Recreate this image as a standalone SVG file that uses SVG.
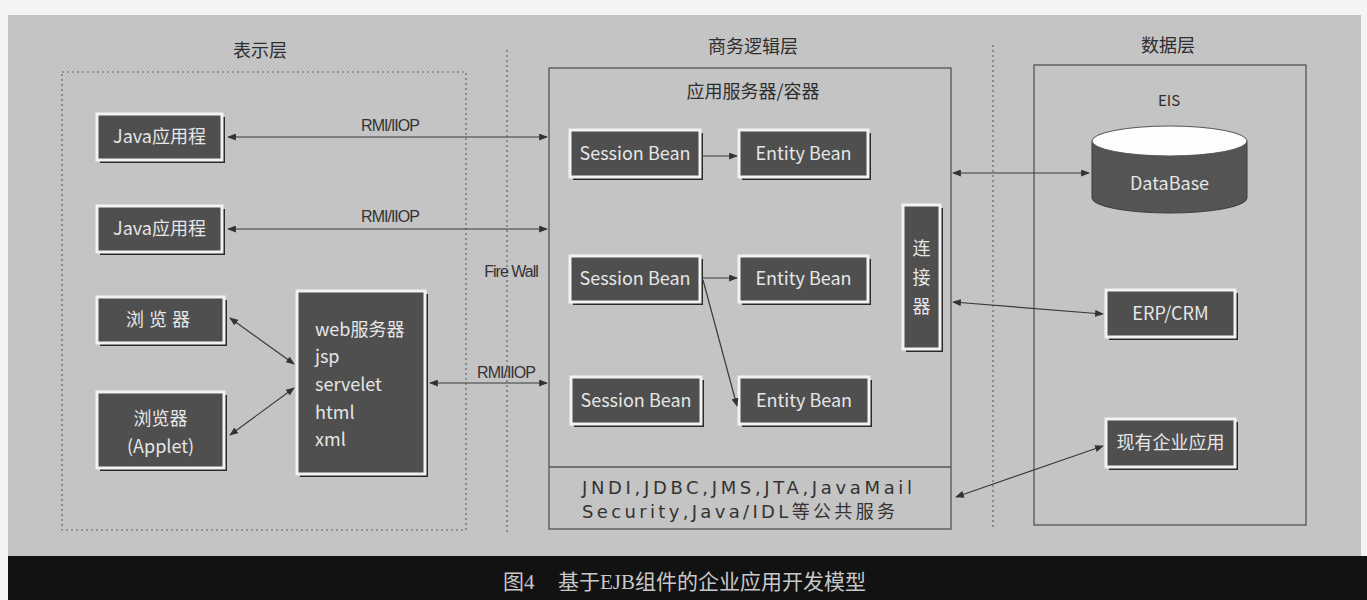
<svg xmlns="http://www.w3.org/2000/svg" width="1367" height="600" viewBox="0 0 1367 600">
<defs>
<style>
.lbl{font-family:"Noto Sans CJK SC","Liberation Sans",sans-serif;fill:#2e2e2e}
.bt{font-family:"Noto Sans CJK SC","Liberation Sans",sans-serif;fill:#e6e6e6;font-size:18px;text-anchor:middle}
.box{fill:#4f4f4f;stroke:#f2f2f2;stroke-width:3}
.sh{fill:#2a2a2a}
.ln{stroke:#3a3a3a;stroke-width:1.2;fill:none}
.rmi{font-family:"Liberation Sans",sans-serif;font-size:16px;fill:#333;letter-spacing:-1px}
.frame{fill:none;stroke:#555;stroke-width:1.3}
.dash{fill:none;stroke:#666;stroke-width:1.2;stroke-dasharray:2 3}
.svc{font-family:"DejaVu Sans","Noto Sans CJK SC",sans-serif;font-size:18px;fill:#333}
</style>
<marker id="ah" viewBox="0 0 10 8" refX="9" refY="4" markerWidth="9" markerHeight="7" markerUnits="userSpaceOnUse" orient="auto-start-reverse">
<path d="M0,0 L10,4 L0,8 z" fill="#333"/>
</marker>
<pattern id="tex" width="4" height="4" patternUnits="userSpaceOnUse">
<rect width="4" height="4" fill="#c7c7c7"/>
<path d="M0,0 L2,2 L0,4 M4,0 L2,2 L4,4" stroke="#bdbdbd" stroke-width="0.6" fill="none"/>
</pattern>
</defs>

<rect x="0" y="0" width="1367" height="600" fill="#f4f4f4"/>
<rect x="8" y="15" width="1353" height="541" fill="url(#tex)"/>
<rect x="8" y="556" width="1359" height="44" fill="#121212"/>
<g font-family="Liberation Serif,'Noto Sans CJK SC',serif" font-size="21" fill="#c8c8c8">
<text x="503" y="589">图4</text>
<text x="558" y="589">基于EJB组件的企业应用开发模型</text>
</g>

<!-- frames -->
<g id="frames">
<text class="lbl" x="260" y="57" font-size="18" text-anchor="middle">表示层</text>
<text class="lbl" x="753" y="53" font-size="18" text-anchor="middle">商务逻辑层</text>
<text class="lbl" x="1168" y="52" font-size="18" text-anchor="middle">数据层</text>
<rect class="dash" x="62" y="72" width="404" height="458"/>
<line class="dash" x1="507" y1="50" x2="507" y2="533"/>
<line class="dash" x1="993" y1="45" x2="993" y2="530"/>
<rect class="frame" x="549" y="68" width="402" height="461"/>
<line class="frame" x1="549" y1="467" x2="951" y2="467"/>
<text class="lbl" x="753" y="98" font-size="18" text-anchor="middle">应用服务器/容器</text>
<text class="svc" x="582" y="494" textLength="330" lengthAdjust="spacing">JNDI,JDBC,JMS,JTA,JavaMail</text>
<text class="svc" x="582" y="518" textLength="313" lengthAdjust="spacing">Security,Java/IDL等公共服务</text>
<rect class="frame" x="1034" y="65" width="272" height="460"/>
<text class="lbl" x="1169" y="106" font-size="15" text-anchor="middle">EIS</text>
<text x="511" y="277" font-family="Liberation Sans,sans-serif" font-size="16" fill="#333" text-anchor="middle" letter-spacing="-1">Fire Wall</text>
</g>

<!-- presentation nodes -->
<g id="java1"><rect class="sh" x="100" y="117" width="125" height="46"/><rect class="box" x="97" y="114" width="125" height="46"/><text class="bt" x="159.5" y="143">Java应用程</text></g>
<g id="java2"><rect class="sh" x="100" y="209" width="125" height="46"/><rect class="box" x="97" y="206" width="125" height="46"/><text class="bt" x="159.5" y="235">Java应用程</text></g>
<g id="browser"><rect class="sh" x="100" y="300" width="127" height="46"/><rect class="box" x="97" y="297" width="127" height="46"/><text class="bt" x="160.5" y="326" letter-spacing="5">浏览器</text></g>
<g id="applet"><rect class="sh" x="100" y="395" width="127" height="76"/><rect class="box" x="97" y="392" width="127" height="76"/><text class="bt" x="160.5" y="425">浏览器</text><text class="bt" x="160.5" y="453">(Applet)</text></g>
<g id="web"><rect class="sh" x="300" y="294" width="128" height="183"/><rect class="box" x="297" y="291" width="128" height="183"/>
<text class="bt" x="315" y="336" style="text-anchor:start">web服务器</text>
<text class="bt" x="315" y="363" style="text-anchor:start">jsp</text>
<text class="bt" x="315" y="391" style="text-anchor:start">servelet</text>
<text class="bt" x="315" y="419" style="text-anchor:start">html</text>
<text class="bt" x="315" y="446" style="text-anchor:start">xml</text></g>

<!-- business nodes -->
<g id="sb1"><rect class="sh" x="573" y="133" width="130" height="47"/><rect class="box" x="570" y="130" width="130" height="47"/><text class="bt" x="635" y="160">Session Bean</text></g>
<g id="eb1"><rect class="sh" x="742" y="133" width="129" height="47"/><rect class="box" x="739" y="130" width="129" height="47"/><text class="bt" x="803.5" y="160">Entity Bean</text></g>
<g id="sb2"><rect class="sh" x="573" y="259" width="130" height="46"/><rect class="box" x="570" y="256" width="130" height="46"/><text class="bt" x="635" y="285">Session Bean</text></g>
<g id="eb2"><rect class="sh" x="742" y="259" width="129" height="46"/><rect class="box" x="739" y="256" width="129" height="46"/><text class="bt" x="803.5" y="285">Entity Bean</text></g>
<g id="sb3"><rect class="sh" x="574" y="380" width="130" height="47"/><rect class="box" x="571" y="377" width="130" height="47"/><text class="bt" x="636" y="407">Session Bean</text></g>
<g id="eb3"><rect class="sh" x="742" y="380" width="130" height="47"/><rect class="box" x="739" y="377" width="130" height="47"/><text class="bt" x="804" y="407">Entity Bean</text></g>
<g id="connector"><rect class="sh" x="906" y="208" width="37" height="144"/><rect class="box" x="903" y="205" width="37" height="144"/>
<text class="bt" x="921.5" y="255" font-size="19">连</text><text class="bt" x="921.5" y="284" font-size="19">接</text><text class="bt" x="921.5" y="313" font-size="19">器</text></g>

<!-- data nodes -->
<g id="database">
<path d="M1092,141 L1092,198 A77.5,15 0 0 0 1247,198 L1247,141 Z" fill="#545454" stroke="#3a3a3a" stroke-width="1"/>
<ellipse cx="1169.5" cy="141" rx="77.5" ry="15" fill="#fdfdfd" stroke="#555" stroke-width="1"/>
<text class="bt" x="1169.5" y="190">DataBase</text>
</g>
<g id="erp"><rect class="sh" x="1109" y="293" width="129" height="47"/><rect class="box" x="1106" y="290" width="129" height="47"/><text class="bt" x="1170.5" y="320">ERP/CRM</text></g>
<g id="legacy"><rect class="sh" x="1109" y="422" width="129" height="48"/><rect class="box" x="1106" y="419" width="129" height="48"/><text class="bt" x="1170.5" y="449">现有企业应用</text></g>

<!-- connectors -->
<g id="connectors">
<line class="ln" x1="228" y1="137" x2="547" y2="137" marker-start="url(#ah)" marker-end="url(#ah)"/>
<text class="rmi" x="390" y="131" text-anchor="middle">RMI/IIOP</text>
<line class="ln" x1="228" y1="229" x2="547" y2="229" marker-start="url(#ah)" marker-end="url(#ah)"/>
<text class="rmi" x="390" y="222" text-anchor="middle">RMI/IIOP</text>
<line class="ln" x1="230" y1="318" x2="294" y2="364" marker-start="url(#ah)" marker-end="url(#ah)"/>
<line class="ln" x1="230" y1="435" x2="294" y2="388" marker-start="url(#ah)" marker-end="url(#ah)"/>
<line class="ln" x1="430" y1="383" x2="547" y2="383" marker-start="url(#ah)" marker-end="url(#ah)"/>
<text class="rmi" x="506" y="378" text-anchor="middle">RMI/IIOP</text>
<line class="ln" x1="702" y1="156" x2="737" y2="156" marker-end="url(#ah)"/>
<line class="ln" x1="702" y1="278" x2="737" y2="278" marker-end="url(#ah)"/>
<line class="ln" x1="703" y1="280" x2="737" y2="406" marker-end="url(#ah)"/>
<line class="ln" x1="953" y1="173" x2="1089" y2="173" marker-start="url(#ah)" marker-end="url(#ah)"/>
<line class="ln" x1="953" y1="302" x2="1103" y2="314" marker-start="url(#ah)" marker-end="url(#ah)"/>
<line class="ln" x1="956" y1="497" x2="1103" y2="446" marker-start="url(#ah)" marker-end="url(#ah)"/>
</g>
</svg>
